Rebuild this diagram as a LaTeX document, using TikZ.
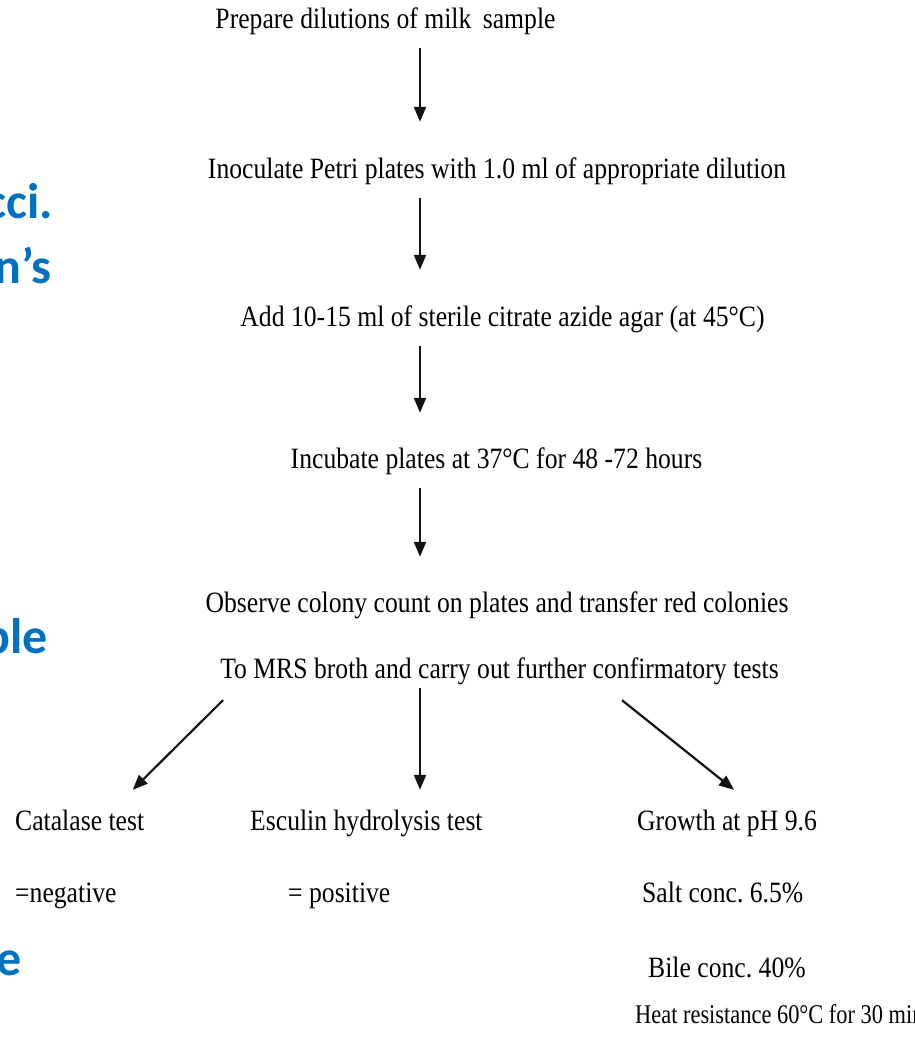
\documentclass[tikz,border=0pt]{standalone}
\usepackage{fontspec}
\setmainfont{Liberation Serif}
\newfontfamily\condserif{Liberation Serif}[FakeStretch=0.87]
\newfontfamily\heatserif{Liberation Serif}[FakeStretch=0.83]
\newfontfamily\slidesans{Carlito}[BoldFont={Carlito Bold}]
\usetikzlibrary{arrows.meta,calc}
\definecolor{slideblue}{RGB}{0,112,192}
\definecolor{inkgray}{RGB}{20,20,20}
\frenchspacing
\tikzset{
  steptext/.style={inner sep=0pt, anchor=base, text height=20pt, text depth=6pt,
    font=\frenchspacing\condserif\fontsize{29.5}{32}\selectfont, text=black},
  leftstep/.style={steptext, anchor=base west},
  heattext/.style={inner sep=0pt, anchor=base west, text height=18pt, text depth=6pt,
    font=\frenchspacing\heatserif\fontsize{27}{30}\selectfont, text=black},
  bluetext/.style={inner sep=0pt, anchor=base east,
    font=\slidesans\bfseries\fontsize{50}{60}\selectfont, text=slideblue},
  flowarrow/.style={draw=inkgray, line width=2.2pt, -{Triangle[length=15pt,width=12pt]}}
}
\begin{document}
\begin{tikzpicture}[x=1pt,y=-1pt]
\useasboundingbox (0,0) rectangle (914,1037);
\fill[white] (0,0) rectangle (914,1037);
\clip (0,0) rectangle (914,1037);

% cropped slide text at left
\node[bluetext] (b1) at (53,218) {cci.};
\node[bluetext] (b2) at (52,283) {n’s};
\node[bluetext] (b3) at (48,653) {ble};
\node[bluetext] (b4) at (22,975) {e};

% main flow
\node[steptext] (p1) at (385.5,28) {Prepare dilutions of milk\hspace{5pt} sample};
\node[steptext] (p2) at (497,178) {Inoculate Petri plates with 1.0 ml of appropriate dilution};
\node[steptext] (p3) at (502.5,326) {Add 10-15 ml of sterile citrate azide agar (at 45°C)};
\node[steptext] (p4) at (496.5,468) {Incubate plates at 37°C for 48 -72 hours};
\node[steptext] (p5) at (497,612) {Observe colony count on plates and transfer red colonies};
\node[steptext] (p6) at (499.5,678) {To MRS broth and carry out further confirmatory tests};

\coordinate (ax) at (420,0);

% tests
\node[leftstep] (cat) at (15,830) {Catalase test};
\node[leftstep] (catr) at (15,902) {=negative};
\node[leftstep] (esc) at (250,830) {Esculin hydrolysis test};
\node[leftstep] (escr) at (288,902) {= positive};
\node[leftstep] (gro) at (637,830) {Growth at pH 9.6};
\node[leftstep] (salt) at (642,902) {Salt conc. 6.5\%};
\node[leftstep] (bile) at (648,977) {Bile conc. 40\%};
\node[heattext] (heat) at (635,1023) {Heat resistance 60°C for 30 min};

% arrows
\draw[flowarrow] ([yshift=-14pt]p1.south -| ax) -- ([yshift=36pt]p2.north -| ax);
\draw[flowarrow] ([yshift=-14pt]p2.south -| ax) -- ([yshift=36pt]p3.north -| ax);
\draw[flowarrow] ([yshift=-14pt]p3.south -| ax) -- ([yshift=35pt]p4.north -| ax);
\draw[flowarrow] ([yshift=-14pt]p4.south -| ax) -- ([yshift=35pt]p5.north -| ax);
\draw[flowarrow] ([yshift=-4pt]p6.south -| ax) -- ([yshift=20pt]esc.north -| ax);
\draw[flowarrow] ($(p6.south)+(-276.5,16)$) -- ($(cat.north)+(53,-20)$);
\draw[flowarrow] ($(p6.south)+(122.5,16)$) -- ($(gro.north)+(7,-20)$);
\end{tikzpicture}
\end{document}
